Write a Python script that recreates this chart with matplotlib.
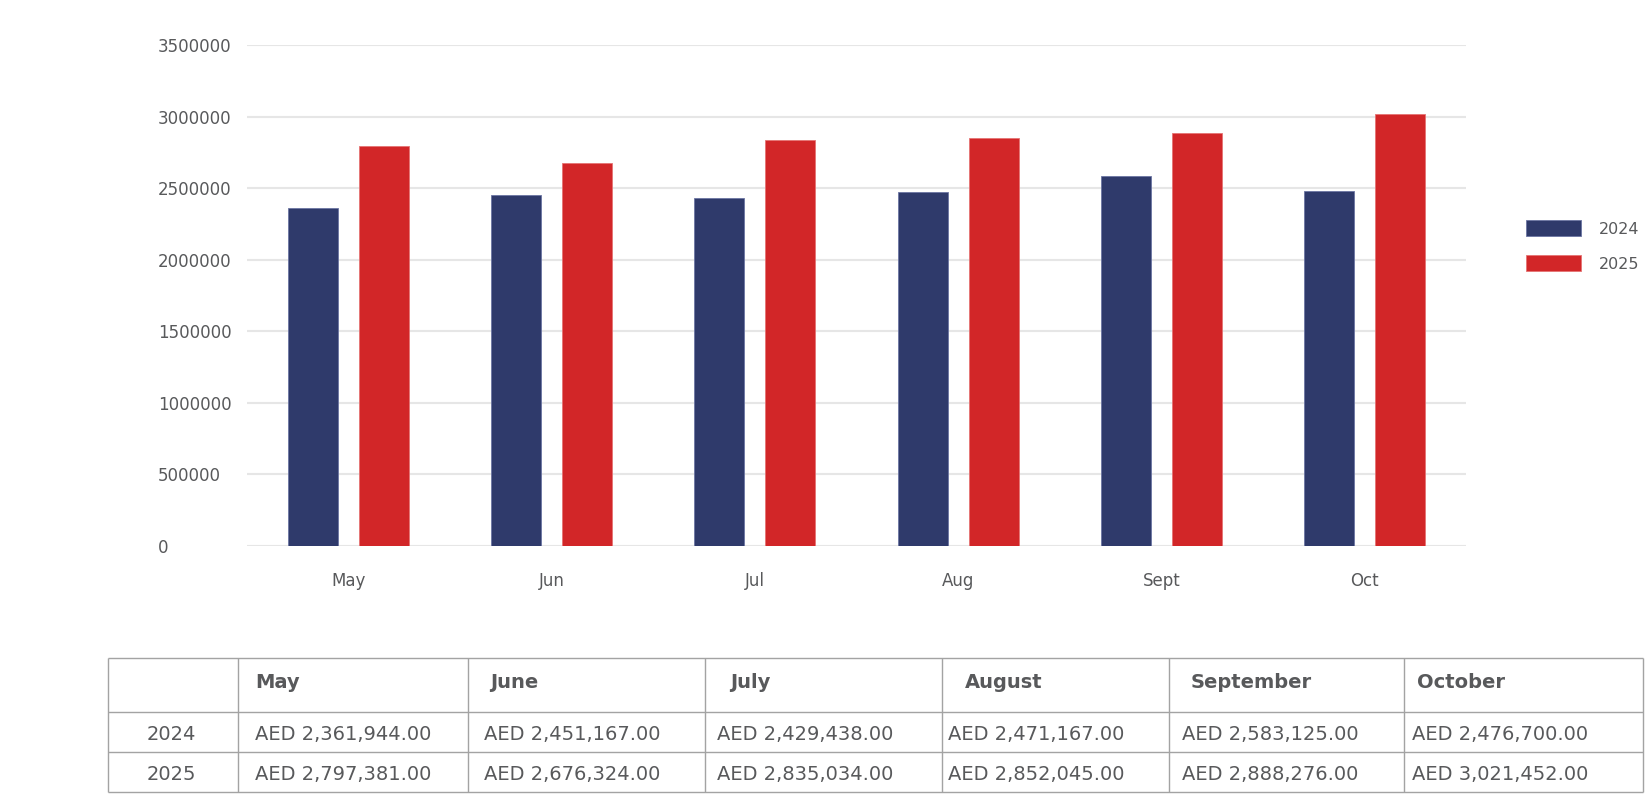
import numpy as np
import matplotlib.pyplot as plt

months_short = ['May', 'Jun', 'Jul', 'Aug', 'Sept', 'Oct']
months_long = ['May', 'June', 'July', 'August', 'September', 'October']
years = ['2024', '2025']
sales_2024 = [2361944, 2451167, 2429438, 2471167, 2583125, 2476700]
sales_2025 = [2797381, 2676324, 2835034, 2852045, 2888276, 3021452]
yticks = [0, 500000, 1000000, 1500000, 2000000, 2500000, 3000000, 3500000]

blue = '#2f3a6b'
red = '#d22628'
txt = '#58595b'
W, H = 1646, 794

plt.rcParams['font.family'] = ['DejaVu Sans']
fig = plt.figure(figsize=(W / 100, H / 100), dpi=100)

# chart area in pixel terms
ax = fig.add_axes([247 / W, 1 - 546 / H, (1466 - 247) / W, (546 - 45) / H])
x = np.arange(len(months_short))
bw = 0.246
ax.bar(x - 0.175, sales_2024, bw, color=blue, edgecolor='#6c75a3', linewidth=0.6, label=years[0], zorder=3)
ax.bar(x + 0.175, sales_2025, bw, color=red, edgecolor='#e57373', linewidth=0.6, label=years[1], zorder=3)
ax.set_xlim(-0.5, len(months_short) - 0.5)
ax.set_ylim(0, 3500000)
ax.set_yticks(yticks)
ax.set_yticklabels([str(v) for v in yticks])
ax.set_xticks(x)
ax.set_xticklabels(months_short)
ax.grid(axis='y', color='#e6e6e6', linewidth=1.5, zorder=0)
ax.set_axisbelow(True)
for s in ax.spines.values():
    s.set_visible(False)
ax.tick_params(axis='y', length=0, pad=64, labelsize=12, labelcolor=txt)
ax.tick_params(axis='x', length=0, pad=19, labelsize=12, labelcolor=txt)
for lab in ax.get_yticklabels():
    lab.set_ha('left')

fig.legend(loc='upper left', bbox_to_anchor=(1526 / W, 1 - 220 / H), frameon=False,
           fontsize=11.5, labelcolor=txt, handlelength=3.44, handleheight=1.2,
           handletextpad=1.1, labelspacing=1.15, borderpad=0, borderaxespad=0)

# table drawn in pixel coords
tb = fig.add_axes([0, 0, 1, 1])
tb.set_xlim(0, W)
tb.set_ylim(H, 0)
tb.axis('off')
col_x = [108, 238, 468, 705, 942, 1169, 1404, 1643]
row_y = [658, 712, 752, 792]
head_x = [255, 490, 730, 965, 1191, 1417]
data_x = [255, 484, 717, 948, 1182, 1412]
lc = '#a3a3a3'
tb.hlines(row_y, col_x[0], col_x[-1], color=lc, linewidth=1)
tb.vlines(col_x, row_y[0], row_y[-1], color=lc, linewidth=1)

for i, m in enumerate(months_long):
    tb.text(head_x[i], (row_y[0] + row_y[1]) / 2 - 2, m, ha='left', va='center',
            fontsize=14, fontweight='bold', color=txt)
for r, (yr, vals) in enumerate(zip(years, [sales_2024, sales_2025])):
    yc = (row_y[r + 1] + row_y[r + 2]) / 2 + 3
    tb.text((col_x[0] + col_x[1]) / 2 - 2, yc - 1, yr, ha='center', va='center', fontsize=14, color=txt)
    for i, v in enumerate(vals):
        tb.text(data_x[i], yc, f'AED {v:,.2f}', ha='left', va='center', fontsize=14, color=txt)

fig.savefig('out.png', dpi=100)
